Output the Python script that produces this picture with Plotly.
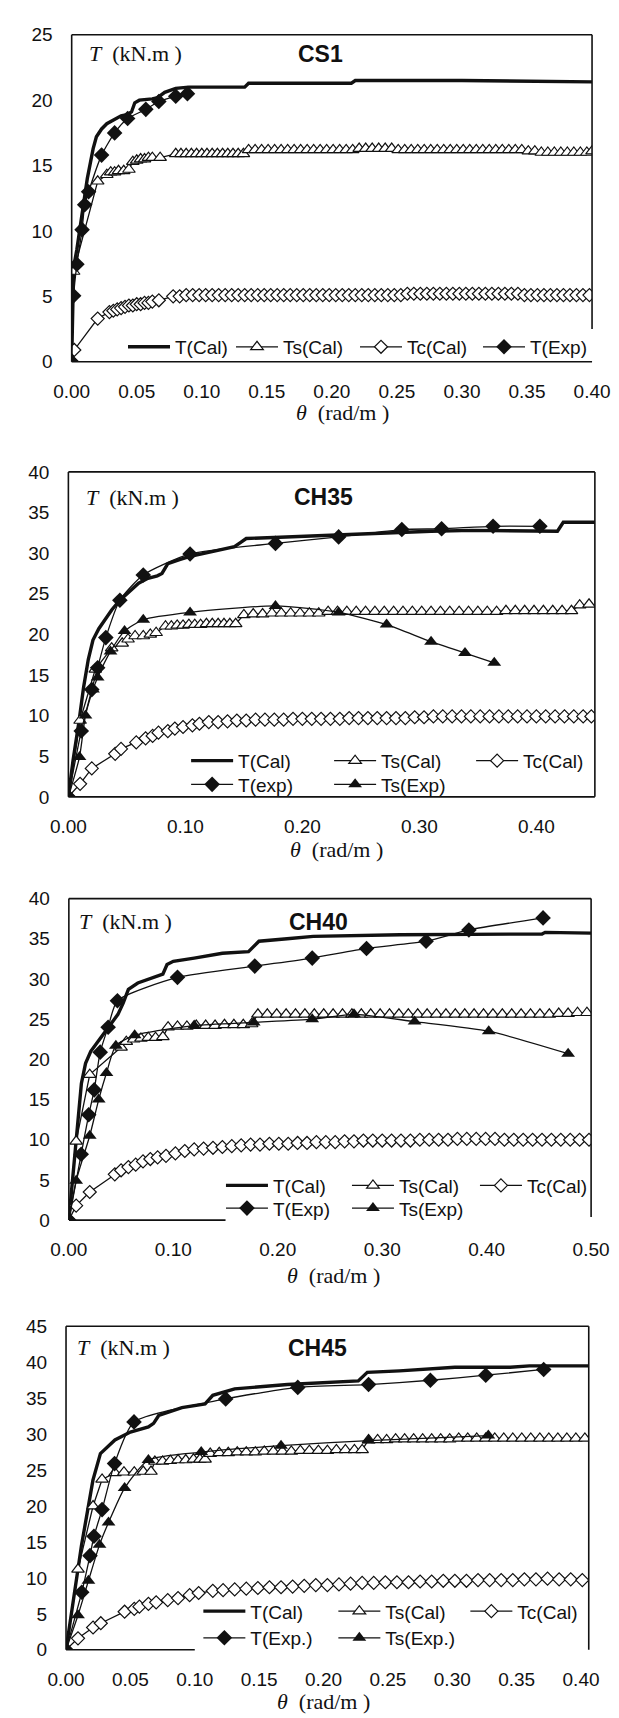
import plotly.graph_objects as go

# ---------------- DATA ----------------
# CS1
cs1_tcal_x = [0, 0.0015, 0.004, 0.008, 0.012, 0.0165, 0.019, 0.023, 0.027, 0.0325, 0.038, 0.0425, 0.046, 0.0485,
              0.052, 0.062, 0.066, 0.0715, 0.080, 0.090, 0.110, 0.133, 0.136, 0.180, 0.215, 0.218, 0.300, 0.400]
cs1_tcal_y = [0, 7.2, 8.6, 11.2, 14.0, 16.3, 17.2, 17.8, 18.2, 18.5, 18.8, 18.9, 19.1, 19.8,
              20.0, 20.1, 20.2, 20.6, 20.9, 21.0, 21.0, 21.0, 21.3, 21.3, 21.3, 21.5, 21.5, 21.4]

cs1_tscal_x = [0, 0.0015, 0.020, 0.027, 0.030, 0.033, 0.036, 0.040, 0.044, 0.047,
               0.050, 0.053, 0.056, 0.059, 0.062, 0.068, 0.080, 0.084, 0.088, 0.092,
               0.096, 0.100, 0.104, 0.108, 0.112, 0.116, 0.120, 0.124, 0.128, 0.132,
               0.136, 0.141, 0.146, 0.151, 0.156, 0.161, 0.166, 0.171, 0.176, 0.181,
               0.186, 0.191, 0.196, 0.201, 0.206, 0.211, 0.216, 0.221, 0.226, 0.231,
               0.236, 0.241, 0.246, 0.251, 0.256, 0.261, 0.266, 0.271, 0.276, 0.281,
               0.286, 0.291, 0.296, 0.301, 0.306, 0.311, 0.316, 0.321, 0.326, 0.331,
               0.336, 0.341, 0.346, 0.351, 0.356, 0.361, 0.366, 0.371, 0.376, 0.381,
               0.386, 0.391, 0.396, 0.400]
cs1_tscal_y = [0, 6.9, 13.8, 14.3, 14.5, 14.5, 14.6, 14.6, 14.7, 15.3,
               15.4, 15.5, 15.5, 15.6, 15.6, 15.6, 15.9, 15.9, 15.9, 15.9,
               15.9, 15.9, 15.9, 15.9, 15.9, 15.9, 15.9, 15.9, 15.9, 15.9,
               16.2, 16.2, 16.2, 16.2, 16.2, 16.2, 16.2, 16.2, 16.2, 16.2,
               16.2, 16.2, 16.2, 16.2, 16.2, 16.2, 16.2, 16.3, 16.3, 16.3,
               16.3, 16.3, 16.3, 16.2, 16.2, 16.2, 16.2, 16.2, 16.2, 16.2,
               16.2, 16.2, 16.2, 16.2, 16.2, 16.2, 16.2, 16.2, 16.2, 16.2,
               16.2, 16.2, 16.2, 16.1, 16.1, 16.0, 16.0, 16.0, 16.0, 16.0,
               16.0, 16.0, 16.0, 16.1]

cs1_tccal_x = [0, 0.002, 0.020, 0.029, 0.032, 0.035, 0.038, 0.041, 0.044, 0.047,
               0.050, 0.053, 0.056, 0.059, 0.062, 0.067,
               0.078, 0.083, 0.088, 0.093, 0.098, 0.103, 0.108, 0.113, 0.118, 0.123,
               0.128, 0.133, 0.138, 0.143, 0.148, 0.153, 0.158, 0.163, 0.168, 0.173,
               0.178, 0.183, 0.188, 0.193, 0.198, 0.203, 0.208, 0.213, 0.218, 0.223,
               0.228, 0.233, 0.238, 0.243, 0.248, 0.253, 0.258, 0.263, 0.268, 0.273,
               0.278, 0.283, 0.288, 0.293, 0.298, 0.303, 0.308, 0.313, 0.318, 0.323,
               0.328, 0.333, 0.338, 0.343, 0.348, 0.353, 0.358, 0.363, 0.368, 0.373,
               0.378, 0.383, 0.388, 0.393, 0.398]
cs1_tccal_y = [0, 0.9, 3.3, 3.8, 3.9, 4.0, 4.1, 4.2, 4.3, 4.3,
               4.4, 4.4, 4.5, 4.5, 4.6, 4.7,
               5.0, 5.0, 5.1, 5.1, 5.1, 5.1, 5.1, 5.1, 5.1, 5.1,
               5.1, 5.1, 5.1, 5.1, 5.1, 5.1, 5.1, 5.1, 5.1, 5.1,
               5.1, 5.1, 5.1, 5.1, 5.1, 5.1, 5.1, 5.1, 5.1, 5.1,
               5.1, 5.1, 5.1, 5.1, 5.1, 5.1, 5.2, 5.2, 5.2, 5.2,
               5.2, 5.2, 5.2, 5.2, 5.2, 5.2, 5.2, 5.2, 5.2, 5.2,
               5.2, 5.2, 5.2, 5.2, 5.1, 5.1, 5.1, 5.1, 5.1, 5.1,
               5.1, 5.1, 5.1, 5.1, 5.1]

cs1_texp_x = [0, 0.0015, 0.004, 0.008, 0.010, 0.013, 0.023, 0.033, 0.043, 0.057, 0.067, 0.080, 0.089]
cs1_texp_y = [0, 5.05, 7.45, 10.1, 12.0, 13.0, 15.8, 17.5, 18.6, 19.3, 19.9, 20.3, 20.5]

# CH35
ch35_tcal_x = [0, 0.004, 0.009, 0.013, 0.017, 0.021, 0.026, 0.031, 0.037, 0.044,
               0.052, 0.060, 0.068, 0.076, 0.080, 0.085, 0.095, 0.104, 0.114, 0.123,
               0.133, 0.142, 0.147, 0.152, 0.170, 0.187, 0.200, 0.218, 0.250, 0.282,
               0.310, 0.345, 0.380, 0.418, 0.423, 0.452]
ch35_tcal_y = [0, 4.5, 9.2, 13.5, 16.9, 19.3, 20.7, 21.8, 23.0, 24.2,
               25.3, 26.3, 26.9, 27.2, 27.5, 28.7, 29.2, 29.6, 29.9, 30.2,
               30.5, 30.8, 31.3, 31.8, 31.9, 32.0, 32.1, 32.2, 32.4, 32.6,
               32.7, 32.8, 32.8, 32.7, 33.8, 33.8]

ch35_tscal_x = [0, 0.010, 0.023, 0.037, 0.046, 0.051, 0.057, 0.064, 0.070, 0.075,
                0.083, 0.088, 0.093, 0.098, 0.103, 0.108, 0.113, 0.118, 0.123, 0.128,
                0.133, 0.138, 0.143, 0.150, 0.158, 0.166, 0.174, 0.182, 0.190, 0.198,
                0.206, 0.214, 0.222, 0.230, 0.238, 0.246, 0.254, 0.262, 0.270, 0.278,
                0.286, 0.294, 0.302, 0.310, 0.318, 0.326, 0.334, 0.342, 0.350, 0.358,
                0.366, 0.374, 0.382, 0.390, 0.398, 0.406, 0.414, 0.422, 0.430, 0.437,
                0.445]
ch35_tscal_y = [0, 9.4, 15.7, 18.3, 18.9, 19.4, 19.8, 19.8, 20.0, 20.2,
                21.0, 21.0, 21.1, 21.1, 21.2, 21.2, 21.2, 21.3, 21.3, 21.3,
                21.3, 21.3, 21.3, 22.4, 22.5, 22.5, 22.6, 22.6, 22.6, 22.6,
                22.6, 22.6, 22.8, 22.8, 22.8, 22.8, 22.8, 22.8, 22.8, 22.8,
                22.8, 22.8, 22.8, 22.8, 22.8, 22.8, 22.8, 22.8, 22.8, 22.8,
                22.8, 22.9, 22.9, 22.9, 22.9, 22.9, 22.9, 22.9, 22.9, 23.6,
                23.7]

ch35_tccal_x = [0, 0.010, 0.020, 0.040, 0.045, 0.058, 0.066, 0.072, 0.077, 0.085,
                0.091, 0.098, 0.106, 0.112, 0.120, 0.128, 0.136, 0.144, 0.152, 0.160,
                0.168, 0.176, 0.184, 0.192, 0.200, 0.208, 0.216, 0.224, 0.232, 0.240,
                0.248, 0.256, 0.264, 0.272, 0.280, 0.288, 0.296, 0.304, 0.312, 0.320,
                0.328, 0.336, 0.344, 0.352, 0.360, 0.368, 0.376, 0.384, 0.392, 0.400,
                0.408, 0.416, 0.424, 0.432, 0.440, 0.447]
ch35_tccal_y = [0, 1.6, 3.5, 5.3, 5.9, 6.7, 7.2, 7.5, 7.9, 8.1,
                8.4, 8.6, 8.8, 9.0, 9.2, 9.2, 9.3, 9.4, 9.4, 9.5,
                9.5, 9.5, 9.5, 9.6, 9.6, 9.6, 9.6, 9.6, 9.6, 9.7,
                9.7, 9.7, 9.7, 9.7, 9.7, 9.7, 9.8, 9.8, 9.9, 9.9,
                9.9, 9.9, 9.9, 9.9, 9.9, 9.9, 9.9, 9.9, 9.9, 9.9,
                9.9, 9.9, 9.9, 9.9, 9.9, 9.9]

ch35_texp_x = [0, 0.011, 0.020, 0.025, 0.032, 0.044, 0.064, 0.104, 0.177, 0.231, 0.285, 0.319, 0.363, 0.403]
ch35_texp_y = [0, 8.1, 13.2, 15.9, 19.6, 24.2, 27.3, 29.9, 31.2, 32.0, 32.9, 33.0, 33.3, 33.3]

ch35_tsexp_x = [0, 0.0095, 0.0146, 0.021, 0.025, 0.036, 0.048, 0.064, 0.104, 0.177, 0.231, 0.272, 0.310, 0.339, 0.364]
ch35_tsexp_y = [0, 4.9, 10.0, 13.2, 14.7, 17.9, 20.4, 21.8, 22.7, 23.5, 22.7, 21.2, 19.1, 17.7, 16.5]

# CH40
ch40_tcal_x = [0, 0.004, 0.008, 0.012, 0.016, 0.021, 0.030, 0.040, 0.047, 0.052,
               0.057, 0.066, 0.084, 0.090, 0.094, 0.100, 0.120, 0.147, 0.172, 0.182,
               0.209, 0.234, 0.317, 0.453, 0.456, 0.500]
ch40_tcal_y = [0, 6.0, 12.0, 17.0, 19.5, 21.0, 22.6, 24.3, 25.6, 27.0,
               28.7, 29.5, 30.4, 30.6, 31.8, 32.2, 32.6, 33.2, 33.4, 34.7,
               35.0, 35.3, 35.5, 35.6, 35.8, 35.7]

ch40_tscal_x = [0, 0.007, 0.020, 0.050, 0.055, 0.062, 0.069, 0.076, 0.083, 0.090,
                0.095, 0.104, 0.113, 0.122, 0.131, 0.140, 0.149, 0.158, 0.167, 0.175,
                0.181, 0.190, 0.199, 0.208, 0.217, 0.226, 0.235, 0.244, 0.253, 0.262,
                0.271, 0.280, 0.289, 0.298, 0.307, 0.316, 0.325, 0.334, 0.343, 0.352,
                0.361, 0.370, 0.379, 0.388, 0.397, 0.406, 0.415, 0.424, 0.433, 0.442,
                0.451, 0.460, 0.469, 0.478, 0.487, 0.496]
ch40_tscal_y = [0, 9.8, 18.1, 21.5, 22.2, 22.5, 22.6, 22.7, 22.7, 22.8,
                24.0, 24.1, 24.1, 24.2, 24.2, 24.2, 24.3, 24.3, 24.3, 24.4,
                25.6, 25.6, 25.6, 25.6, 25.6, 25.6, 25.6, 25.6, 25.6, 25.6,
                25.6, 25.6, 25.6, 25.6, 25.6, 25.6, 25.6, 25.6, 25.6, 25.6,
                25.6, 25.6, 25.6, 25.6, 25.6, 25.6, 25.6, 25.6, 25.6, 25.6,
                25.6, 25.6, 25.7, 25.7, 25.8, 25.8]

ch40_tccal_x = [0, 0.007, 0.020, 0.044, 0.050, 0.057, 0.064, 0.071, 0.078, 0.085,
                0.093, 0.102, 0.111, 0.120, 0.129, 0.138, 0.147, 0.156, 0.165, 0.174,
                0.183, 0.192, 0.201, 0.210, 0.219, 0.228, 0.237, 0.246, 0.255, 0.264,
                0.273, 0.282, 0.291, 0.300, 0.309, 0.318, 0.327, 0.336, 0.345, 0.354,
                0.363, 0.372, 0.381, 0.390, 0.399, 0.408, 0.417, 0.426, 0.435, 0.444,
                0.453, 0.462, 0.471, 0.480, 0.489, 0.498]
ch40_tccal_y = [0, 1.8, 3.5, 5.7, 6.2, 6.6, 6.9, 7.3, 7.6, 7.8,
                8.0, 8.3, 8.6, 8.8, 8.9, 9.0, 9.1, 9.2, 9.3, 9.4,
                9.4, 9.5, 9.5, 9.5, 9.6, 9.6, 9.7, 9.7, 9.7, 9.8,
                9.8, 9.9, 9.9, 9.9, 9.9, 9.9, 9.9, 10.0, 10.0, 10.0,
                10.0, 10.1, 10.1, 10.1, 10.1, 10.1, 10.0, 10.0, 10.0, 10.0,
                10.0, 10.0, 10.0, 10.0, 10.0, 10.0]

ch40_texp_x = [0, 0.0118, 0.019, 0.0243, 0.030, 0.0376, 0.0465, 0.104, 0.178, 0.233, 0.285, 0.342, 0.383, 0.454]
ch40_texp_y = [0, 8.2, 13.1, 16.2, 20.9, 24.0, 27.3, 30.2, 31.6, 32.6, 33.8, 34.7, 36.1, 37.6]

ch40_tsexp_x = [0, 0.007, 0.020, 0.0286, 0.036, 0.045, 0.063, 0.120, 0.177, 0.233, 0.273, 0.331, 0.402, 0.478]
ch40_tsexp_y = [0, 4.9, 10.5, 15.0, 18.3, 21.7, 23.0, 24.2, 24.6, 25.0, 25.6, 24.7, 23.5, 20.7]

# CH45
ch45_tcal_x = [0, 0.006, 0.012, 0.0209, 0.0267, 0.038, 0.050, 0.064, 0.068, 0.072,
               0.090, 0.108, 0.114, 0.131, 0.172, 0.227, 0.234, 0.259, 0.302, 0.345,
               0.360, 0.406]
ch45_tcal_y = [0, 7.5, 14.5, 23.6, 27.3, 29.2, 30.3, 31.0, 31.5, 32.6,
               33.7, 34.2, 35.4, 36.3, 36.9, 37.4, 38.6, 38.8, 39.3, 39.3,
               39.5, 39.5]

ch45_tscal_x = [0, 0.0093, 0.021, 0.028, 0.038, 0.045, 0.053, 0.060, 0.066, 0.069,
                0.075, 0.081, 0.087, 0.093, 0.099, 0.104, 0.108, 0.112, 0.119, 0.126,
                0.133, 0.140, 0.147, 0.154, 0.161, 0.168, 0.175, 0.182, 0.189, 0.196,
                0.203, 0.210, 0.217, 0.224, 0.230, 0.235, 0.242, 0.249, 0.256, 0.263,
                0.270, 0.277, 0.284, 0.291, 0.298, 0.305, 0.312, 0.319, 0.326, 0.333,
                0.340, 0.347, 0.354, 0.361, 0.368, 0.375, 0.382, 0.389, 0.396, 0.403]
ch45_tscal_y = [0, 11.2, 20.0, 23.7, 24.6, 24.7, 24.7, 24.8, 24.8, 26.2,
                26.2, 26.3, 26.4, 26.4, 26.5, 26.5, 26.5, 27.3, 27.4, 27.4,
                27.5, 27.5, 27.5, 27.6, 27.6, 27.6, 27.6, 27.7, 27.7, 27.7,
                27.7, 27.8, 27.8, 27.8, 27.8, 29.2, 29.2, 29.2, 29.3, 29.3,
                29.3, 29.3, 29.3, 29.3, 29.3, 29.4, 29.4, 29.4, 29.4, 29.4,
                29.4, 29.4, 29.4, 29.4, 29.4, 29.4, 29.4, 29.4, 29.4, 29.4]

ch45_tccal_x = [0, 0.0093, 0.021, 0.027, 0.0455, 0.053, 0.057, 0.064, 0.070, 0.079,
                0.087, 0.096, 0.103, 0.114, 0.122, 0.131, 0.140, 0.149, 0.158, 0.167,
                0.176, 0.185, 0.194, 0.203, 0.212, 0.221, 0.230, 0.239, 0.248, 0.257,
                0.266, 0.275, 0.284, 0.293, 0.302, 0.311, 0.320, 0.329, 0.338, 0.347,
                0.356, 0.365, 0.374, 0.383, 0.392, 0.401]
ch45_tccal_y = [0, 1.6, 3.1, 3.7, 5.3, 5.7, 6.0, 6.4, 6.6, 6.9,
                7.2, 7.6, 7.9, 8.2, 8.3, 8.4, 8.5, 8.6, 8.7, 8.7,
                8.8, 8.9, 9.0, 9.0, 9.1, 9.2, 9.3, 9.3, 9.4, 9.4,
                9.4, 9.5, 9.5, 9.6, 9.6, 9.6, 9.7, 9.7, 9.7, 9.7,
                9.8, 9.8, 9.9, 9.8, 9.8, 9.7]

ch45_texp_x = [0, 0.0122, 0.0186, 0.0217, 0.028, 0.0377, 0.0528, 0.124, 0.180, 0.235, 0.283, 0.326, 0.371]
ch45_texp_y = [0, 8.0, 13.1, 15.8, 19.5, 25.9, 31.7, 34.9, 36.5, 36.9, 37.5, 38.2, 39.0]

ch45_tsexp_x = [0, 0.0093, 0.0174, 0.026, 0.033, 0.0455, 0.064, 0.105, 0.167, 0.235, 0.328]
ch45_tsexp_y = [0, 4.8, 9.6, 14.6, 17.7, 22.5, 26.4, 27.5, 28.4, 29.1, 29.8]

# tick values / labels
cs1_xticks = [0, 0.05, 0.10, 0.15, 0.20, 0.25, 0.30, 0.35, 0.40]
ch35_xticks = [0, 0.10, 0.20, 0.30, 0.40]
ch40_xticks = [0, 0.10, 0.20, 0.30, 0.40, 0.50]
ch45_xticks = [0, 0.05, 0.10, 0.15, 0.20, 0.25, 0.30, 0.35, 0.40]
cs1_yticks = [0, 5, 10, 15, 20, 25]
ch35_yticks = [0, 5, 10, 15, 20, 25, 30, 35, 40]
ch40_yticks = [0, 5, 10, 15, 20, 25, 30, 35, 40]
ch45_yticks = [0, 5, 10, 15, 20, 25, 30, 35, 40, 45]

titles = ["CS1", "CH35", "CH40", "CH45"]

# ---------------- LAYOUT HELPERS ----------------
W, H = 619, 1718
SANS = "Liberation Sans, Arial, sans-serif"
SERIF = "Liberation Serif, Times New Roman, serif"
INK = "#111111"


def fx(p):
    return p / W


def fy(p):
    return 1 - p / H


panels = [
    dict(xr=[0, 0.40], xd=(48.5, 601), yr=[0, 25], yd=(17, 348), xt=cs1_xticks, yt=cs1_yticks,
         rstop=0.10, bstop=None, tx=65, ty=36, cx=313, xtx=336, xty=399),
    dict(xr=[0, 0.45], xd=(45, 604), yr=[0, 40], yd=(459.5, 788.5), xt=ch35_xticks, yt=ch35_yticks,
         rstop=0.0, bstop=None, tx=62, ty=485, cx=316, xtx=330, xty=842),
    dict(xr=[0, 0.50], xd=(45.5, 600), yr=[0, 40], yd=(891.5, 1217), xt=ch40_xticks, yt=ch40_yticks,
         rstop=0.01, bstop=0.15, tx=54, ty=915, cx=311, xtx=326, xty=1273),
    dict(xr=[0, 0.406], xd=(42.5, 597.5), yr=[0, 45], yd=(1324.5, 1652), xt=ch45_xticks, yt=ch45_yticks,
         rstop=0.0, bstop=0.10, tx=52, ty=1346, cx=309, xtx=316, xty=1704),
]

fig = go.Figure()

THICK = dict(color=INK, width=3.4)
THIN = dict(color=INK, width=1.3)
M_OT = dict(symbol="triangle-up", size=11, color="white", line=dict(color=INK, width=1.2))
M_OD = dict(symbol="diamond", size=10, color="white", line=dict(color=INK, width=1.2))
M_FD = dict(symbol="diamond", size=12, color=INK, line=dict(color=INK, width=0))
M_FT = dict(symbol="triangle-up", size=12, color=INK, line=dict(color=INK, width=0))


def add(x, y, name, panel, kind, legend, lw):
    ax = "" if panel == 0 else str(panel + 1)
    kw = dict(x=x, y=y, name=name, xaxis="x" + ax, yaxis="y" + ax, legend=legend,
              legendwidth=lw, cliponaxis=True, hoverinfo="skip")
    if kind == "tcal":
        kw.update(mode="lines", line=THICK)
    elif kind == "tscal":
        kw.update(mode="lines+markers", line=THIN, marker=M_OT)
    elif kind == "tccal":
        kw.update(mode="lines+markers", line=THIN, marker=M_OD)
    elif kind == "texp":
        kw.update(mode="lines+markers", line=dict(THIN, shape="spline", smoothing=0.6), marker=M_FD)
    elif kind == "tsexp":
        kw.update(mode="lines+markers", line=dict(THIN, shape="spline", smoothing=0.6), marker=M_FT)
    fig.add_trace(go.Scatter(**kw))


# CS1 (one legend row)
add(cs1_tcal_x, cs1_tcal_y, "T(Cal)", 0, "tcal", "legend", 51)
add(cs1_tscal_x, cs1_tscal_y, "Ts(Cal)", 0, "tscal", "legend", 67)
add(cs1_tccal_x, cs1_tccal_y, "Tc(Cal)", 0, "tccal", "legend", 66)
add(cs1_texp_x, cs1_texp_y, "T(Exp)", 0, "texp", "legend", 62)
# CH35
add(ch35_tcal_x, ch35_tcal_y, "T(Cal)", 1, "tcal", "legend2", 86)
add(ch35_tscal_x, ch35_tscal_y, "Ts(Cal)", 1, "tscal", "legend2", 85)
add(ch35_tccal_x, ch35_tccal_y, "Tc(Cal)", 1, "tccal", "legend2", 66)
add(ch35_texp_x, ch35_texp_y, "T(exp)", 1, "texp", "legend3", 86)
add(ch35_tsexp_x, ch35_tsexp_y, "Ts(Exp)", 1, "tsexp", "legend3", 70)
# CH40
add(ch40_tcal_x, ch40_tcal_y, "T(Cal)", 2, "tcal", "legend4", 69)
add(ch40_tscal_x, ch40_tscal_y, "Ts(Cal)", 2, "tscal", "legend4", 71)
add(ch40_tccal_x, ch40_tccal_y, "Tc(Cal)", 2, "tccal", "legend4", 66)
add(ch40_texp_x, ch40_texp_y, "T(Exp)", 2, "texp", "legend5", 69)
add(ch40_tsexp_x, ch40_tsexp_y, "Ts(Exp)", 2, "tsexp", "legend5", 70)
# CH45
add(ch45_tcal_x, ch45_tcal_y, "T(Cal)", 3, "tcal", "legend6", 78)
add(ch45_tscal_x, ch45_tscal_y, "Ts(Cal)", 3, "tscal", "legend6", 75)
add(ch45_tccal_x, ch45_tccal_y, "Tc(Cal)", 3, "tccal", "legend6", 66)
add(ch45_texp_x, ch45_texp_y, "T(Exp.)", 3, "texp", "legend7", 78)
add(ch45_tsexp_x, ch45_tsexp_y, "Ts(Exp.)", 3, "tsexp", "legend7", 75)

layout = dict(width=W, height=H, margin=dict(l=0, r=0, t=0, b=0),
              paper_bgcolor="white", plot_bgcolor="white", showlegend=True,
              font=dict(family=SANS, color=INK))
shapes = []
annotations = []
for i, p in enumerate(panels):
    ax = "" if i == 0 else str(i + 1)
    layout["xaxis" + ax] = dict(
        range=p["xr"], domain=[fx(p["xd"][0]), fx(p["xd"][1])], anchor="y" + ax,
        tickmode="array", tickvals=p["xt"], ticktext=["%.2f" % v for v in p["xt"]],
        showgrid=False, zeroline=False, showline=False, ticks="", ticklabelstandoff=16,
        tickfont=dict(family=SANS, size=19, color=INK), fixedrange=True)
    layout["yaxis" + ax] = dict(
        range=p["yr"], domain=[fy(p["yd"][1]), fy(p["yd"][0])], anchor="x" + ax,
        tickmode="array", tickvals=p["yt"], ticktext=[str(v) for v in p["yt"]],
        showgrid=False, zeroline=False, showline=False, ticks="", ticklabelstandoff=18,
        tickfont=dict(family=SANS, size=19, color=INK), fixedrange=True)
    xd, yd = "x" + ax + " domain", "y" + ax + " domain"
    ln = dict(color=INK, width=1.6)
    shapes.append(dict(type="line", xref=xd, yref=yd, x0=0, x1=1, y0=1, y1=1, line=ln))
    shapes.append(dict(type="line", xref=xd, yref=yd, x0=0, x1=0, y0=0, y1=1, line=ln))
    shapes.append(dict(type="line", xref=xd, yref=yd, x0=1, x1=1, y0=p["rstop"], y1=1, line=ln))
    if p["bstop"] is None:
        shapes.append(dict(type="line", xref=xd, yref=yd, x0=0, x1=1, y0=0, y1=0, line=ln))
    else:
        shapes.append(dict(type="line", xref="x" + ax, yref=yd, x0=0, x1=p["bstop"], y0=0, y1=0, line=ln))
    annotations.append(dict(text="<i>T</i>\u00a0\u00a0(kN.m\u00a0)", xref="paper", yref="paper",
                            x=fx(p["tx"]), y=fy(p["ty"]), xanchor="left", yanchor="middle",
                            showarrow=False, font=dict(family=SERIF, size=22, color=INK)))
    annotations.append(dict(text="<b>" + titles[i] + "</b>", xref="paper", yref="paper",
                            x=fx(p["cx"]), y=fy(p["ty"]), xanchor="center", yanchor="middle",
                            showarrow=False, font=dict(family=SANS, size=23, color=INK)))
    annotations.append(dict(text="<i>θ</i>\u00a0\u00a0(rad/m\u00a0)", xref="paper", yref="paper",
                            x=fx(p["xtx"]), y=fy(p["xty"]), xanchor="center", yanchor="middle",
                            showarrow=False, font=dict(family=SERIF, size=22, color=INK)))

leg_common = dict(orientation="h", xanchor="left", yanchor="middle", bgcolor="rgba(0,0,0,0)",
                  borderwidth=0, itemwidth=42, font=dict(family=SANS, size=19, color=INK),
                  traceorder="normal", itemclick=False, itemdoubleclick=False)
legend_pos = {"legend": (103, 333), "legend2": (170, 752), "legend3": (170, 776),
              "legend4": (207, 1182), "legend5": (207, 1205), "legend6": (183, 1613),
              "legend7": (183, 1640)}
for k, (lx, ly) in legend_pos.items():
    layout[k] = dict(leg_common, x=fx(lx), y=fy(ly))

layout["shapes"] = shapes
layout["annotations"] = annotations
fig.update_layout(**layout)
fig.write_html("out.html")
